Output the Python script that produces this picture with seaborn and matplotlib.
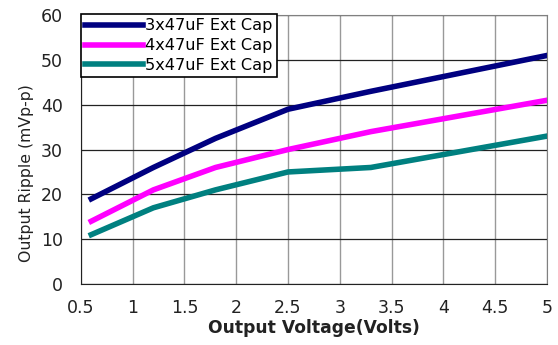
import pandas as pd
import matplotlib.pyplot as plt
import seaborn as sns

plt.rcParams['font.family'] = ['DejaVu Sans']

vout = [0.6, 1.2, 1.8, 2.5, 3.3, 5.0]
cap3 = [19, 26, 32.5, 39, 43, 51]
cap4 = [14, 21, 26, 30, 34, 41]
cap5 = [11, 17, 21, 25, 26, 33]
names = ['3x47uF Ext Cap', '4x47uF Ext Cap', '5x47uF Ext Cap']
colors = ['#000080', '#FF00FF', '#008080']

df = pd.DataFrame({'Vout': vout * 3,
                   'Ripple': cap3 + cap4 + cap5,
                   'Series': [names[0]] * 6 + [names[1]] * 6 + [names[2]] * 6})

fig, ax = plt.subplots(figsize=(5.58, 3.45), dpi=100)
sns.lineplot(data=df, x='Vout', y='Ripple', hue='Series', palette=colors,
             linewidth=4, ax=ax, sort=False)

ax.set_xlim(0.5, 5)
ax.set_ylim(0, 60)
ax.set_xticks([0.5, 1, 1.5, 2, 2.5, 3, 3.5, 4, 4.5, 5])
ax.set_xticklabels(['0.5', '1', '1.5', '2', '2.5', '3', '3.5', '4', '4.5', '5'])
ax.set_yticks(range(0, 70, 10))
ax.tick_params(length=0, labelsize=12.5, colors='#222222')
ax.tick_params(axis='y', pad=13)
ax.tick_params(axis='x', pad=11)
ax.grid(axis='x', color='#999999', linewidth=1)
ax.grid(axis='y', color='#222222', linewidth=0.9)
ax.set_axisbelow(True)
for s in ax.spines.values():
    s.set_color('#808080')
ax.spines['left'].set_color('#222222')
ax.spines['bottom'].set_color('#222222')

ax.set_xlabel('Output Voltage(Volts)', fontsize=12.3, fontweight='bold', color='#222222',
              labelpad=1)
ax.set_ylabel('Output Ripple (mVp-p)', fontsize=11.3, color='#222222')
ax.yaxis.set_label_coords(-0.10, 0.413)

leg = ax.legend(loc='upper left', bbox_to_anchor=(0, 1.003), fontsize=11.6, frameon=True,
                fancybox=False, edgecolor='black', framealpha=1, handlelength=3.6,
                handletextpad=0.15, borderpad=0.25, labelspacing=0.3, borderaxespad=0)
leg.get_frame().set_linewidth(1.2)

fig.subplots_adjust(left=0.145, right=0.98, top=0.956, bottom=0.177)
fig.savefig('out.png', dpi=100)
